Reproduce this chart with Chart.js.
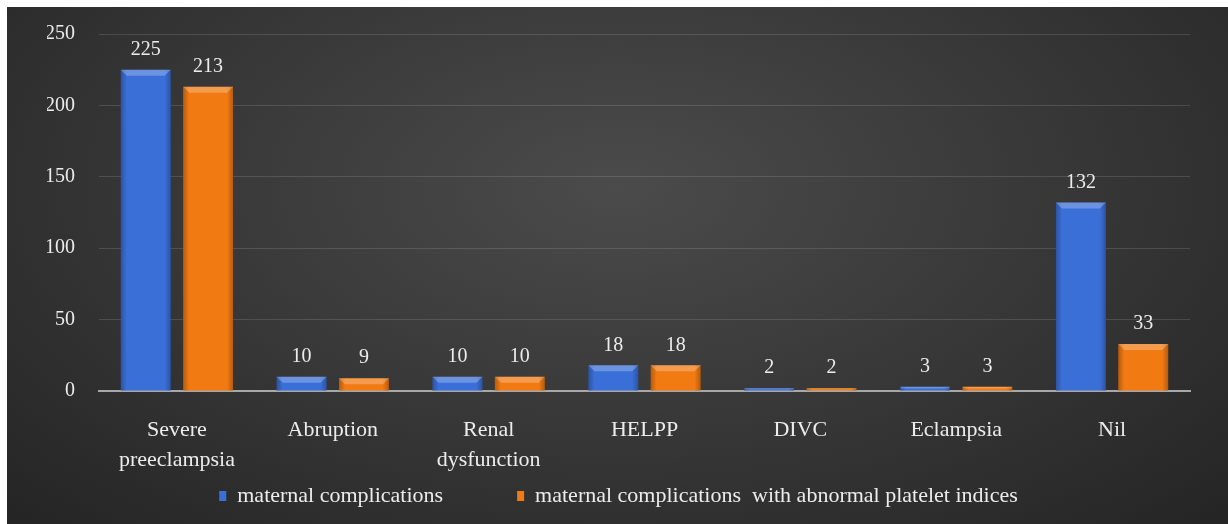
<!DOCTYPE html>
<html>
<head>
<meta charset="utf-8">
<script src="https://cdn.jsdelivr.net/npm/chart.js@4/dist/chart.umd.min.js"></script>
<style>
    html, body { margin: 0; padding: 0; background: #fff; }
    #wrap {
        position: absolute; left: 7px; top: 7px; width: 1221px; height: 517px;
        background: radial-gradient(ellipse 70% 90% at 50% 35%, #4b4b4b 0%, #3a3a3a 45%, #252525 100%);
    }
    canvas { display: block; }
</style>
</head>
<body>
<div id="wrap"><canvas id="complicationsChart" width="1221" height="517"></canvas></div>
<script>
let categories = [["Severe", "preeclampsia"], "Abruption", ["Renal", "dysfunction"], "HELPP", "DIVC", "Eclampsia", "Nil"];
let maternalComplications = [225, 10, 10, 18, 2, 3, 132];
let withAbnormalPlatelets = [213, 9, 10, 18, 2, 3, 33];
let yTicks = [0, 50, 100, 150, 200, 250];

const FONT = '"Liberation Serif", "DejaVu Serif", "Noto Serif", Tinos, FreeSerif, serif';
const TEXT = "#ececec";

// value labels above each bar
const valueLabels = {
    id: "valueLabels",
    afterDatasetsDraw(chart) {
        let ctx = chart.ctx;
        ctx.save();
        ctx.font = "20px " + FONT;
        ctx.fillStyle = TEXT;
        ctx.textAlign = "center";
        ctx.textBaseline = "bottom";
        chart.data.datasets.forEach((ds, di) => {
            chart.getDatasetMeta(di).data.forEach((bar, i) => {
                ctx.fillText(ds.data[i], bar.x, bar.y - 10);
            });
        });
        ctx.restore();
    }
};

// soft bevel on the bars: darker sides, light top edge
const barBevel = {
    id: "barBevel",
    afterDatasetsDraw(chart) {
        let ctx = chart.ctx;
        ctx.save();
        chart.data.datasets.forEach((ds, di) => {
            chart.getDatasetMeta(di).data.forEach((bar) => {
                let left = bar.x - bar.width / 2;
                let h = bar.base - bar.y;
                if (h < 1) return;
                let g = ctx.createLinearGradient(left, 0, left + bar.width, 0);
                g.addColorStop(0, "rgba(0,0,0,0.25)");
                g.addColorStop(0.12, "rgba(0,0,0,0)");
                g.addColorStop(0.88, "rgba(0,0,0,0)");
                g.addColorStop(1, "rgba(0,0,0,0.25)");
                ctx.fillStyle = g;
                ctx.fillRect(left, bar.y, bar.width, h);
                let t = Math.min(6, h / 2);
                ctx.fillStyle = "rgba(255,255,255,0.25)";
                ctx.beginPath();
                ctx.moveTo(left, bar.y);
                ctx.lineTo(left + bar.width, bar.y);
                ctx.lineTo(left + bar.width - t, bar.y + t);
                ctx.lineTo(left + t, bar.y + t);
                ctx.closePath();
                ctx.fill();
            });
        });
        ctx.restore();
    }
};

let ctx1 = document.getElementById("complicationsChart").getContext("2d");
let chart = new Chart(ctx1, {
    type: "bar",
    data: {
        labels: categories,
        datasets: [
            {
                label: "maternal complications",
                data: maternalComplications,
                backgroundColor: "#3a6fd8",
                categoryPercentage: 0.8,
                barPercentage: 0.8
            },
            {
                label: "maternal complications  with abnormal platelet indices",
                data: withAbnormalPlatelets,
                backgroundColor: "#f27a12",
                categoryPercentage: 0.8,
                barPercentage: 0.8
            }
        ]
    },
    options: {
        responsive: false,
        maintainAspectRatio: false,
        animation: false,
        layout: { padding: { left: 40, right: 38, top: 27, bottom: 7 } },
        plugins: {
            tooltip: { enabled: false },
            legend: {
                position: "bottom",
                labels: {
                    color: TEXT,
                    font: { family: FONT, size: 22 },
                    boxWidth: 7,
                    boxHeight: 10,
                    padding: 8,
                    // wider gap after the first entry
                    generateLabels: (c) => {
                        let items = Chart.defaults.plugins.legend.labels.generateLabels(c);
                        items[0].text += "\u2003\u2003\u2003";
                        return items;
                    }
                }
            }
        },
        scales: {
            x: {
                grid: { display: false, drawTicks: false },
                border: { display: true, color: "#a8a8a8", width: 2 },
                afterFit: (axis) => {
                    axis.height = 86;
                    axis.paddingLeft = 0;
                    axis.paddingRight = 0;
                },
                ticks: {
                    color: TEXT,
                    font: { family: FONT, size: 22, lineHeight: 1.36 },
                    padding: 24,
                    maxRotation: 0
                }
            },
            y: {
                min: 0,
                max: 250,
                afterBuildTicks: (axis) => { axis.ticks = yTicks.map(v => ({ value: v })); },
                afterFit: (axis) => {
                    axis.width = 52;
                    axis.paddingTop = 0;
                    axis.paddingBottom = 0;
                },
                grid: {
                    color: "rgba(255,255,255,0.13)",
                    drawTicks: false
                },
                border: { display: false },
                ticks: {
                    color: TEXT,
                    font: { family: FONT, size: 20 },
                    padding: 24
                }
            }
        }
    },
    plugins: [barBevel, valueLabels]
});
</script>
</body>
</html>
